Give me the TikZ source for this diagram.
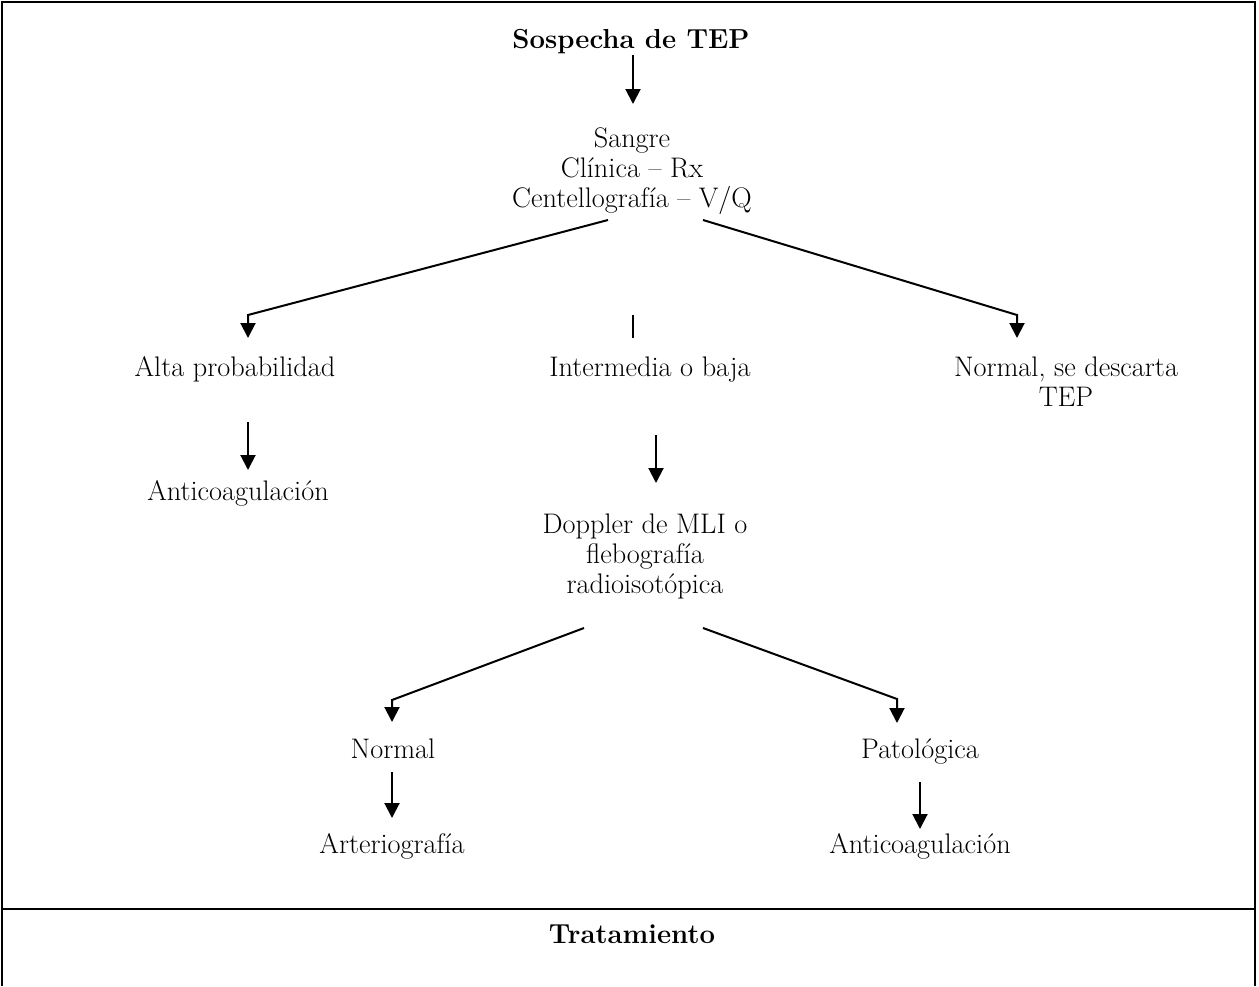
\documentclass[tikz,border=0pt]{standalone}
\usepackage{fontspec}
\usetikzlibrary{arrows.meta}
\begin{document}
\begin{tikzpicture}[x=1pt,y=-1pt,
  txt/.style={inner sep=0pt, font=\fontsize{28.3pt}{30pt}\selectfont, align=center},
  hd/.style={inner sep=0pt, font=\fontsize{27.5pt}{32pt}\selectfont\bfseries},
  ln/.style={line width=2pt},
  arr/.style={line width=2pt, -{Triangle[width=15pt,length=15pt]}},
  frm/.style={line width=2.5pt}]
\useasboundingbox (0,0) rectangle (1259,986);
% frame
\draw[frm] (2,986) -- (2,2) -- (1255,2) -- (1255,986);
\draw[frm] (2,909) -- (1255,909);
% nodes (base = baseline of last line)
\node[hd, anchor=base] (sosp) at (631,48) {Sospecha de TEP};
\node[txt, anchor=base] (sangre) at (632,207) {Sangre\\Clínica – Rx\\Centellografía – V/Q};
\node[txt, anchor=base] (alta) at (235,376) {Alta probabilidad};
\node[txt, anchor=base] (inter) at (650,376) {Intermedia o baja};
\node[txt, anchor=base] (normtep) at (1066,406) {Normal, se descarta\\TEP};
\node[txt, anchor=base] (anti1) at (238,500) {Anticoagulación};
\node[txt, anchor=base] (doppler) at (645,593) {Doppler de MLI o\\flebografía\\radioisotópica};
\node[txt, anchor=base] (normal) at (393,758) {Normal};
\node[txt, anchor=base] (pato) at (920,758) {Patológica};
\node[txt, anchor=base] (arterio) at (392,853) {Arteriografía};
\node[txt, anchor=base] (anti2) at (920,853) {Anticoagulación};
\node[hd, anchor=base] (trat) at (632,943) {Tratamiento};
% connector points
\coordinate (a1s) at (633,55);  \coordinate (a1e) at (633,104);
\coordinate (bl0) at (608,220); \coordinate (bl1) at (248,315); \coordinate (bl2) at (248,338);
\coordinate (bm1) at (633,315); \coordinate (bm2) at (633,338);
\coordinate (br0) at (703,220); \coordinate (br1) at (1017,315); \coordinate (br2) at (1017,338);
\coordinate (a2s) at (248,422); \coordinate (a2e) at (248,470);
\coordinate (a3s) at (656,435); \coordinate (a3e) at (656,483);
\coordinate (cl0) at (584,628); \coordinate (cl1) at (392,700); \coordinate (cl2) at (392,722);
\coordinate (cr0) at (703,628); \coordinate (cr1) at (897,699); \coordinate (cr2) at (897,723);
\coordinate (a4s) at (392,772); \coordinate (a4e) at (392,818);
\coordinate (a5s) at (920,782); \coordinate (a5e) at (920,829);
% connectors
\draw[arr] (a1s) -- (a1e);
\draw[arr] (bl0) -- (bl1) -- (bl2);
\draw[ln] (bm1) -- (bm2);
\draw[arr] (br0) -- (br1) -- (br2);
\draw[arr] (a2s) -- (a2e);
\draw[arr] (a3s) -- (a3e);
\draw[arr] (cl0) -- (cl1) -- (cl2);
\draw[arr] (cr0) -- (cr1) -- (cr2);
\draw[arr] (a4s) -- (a4e);
\draw[arr] (a5s) -- (a5e);
\end{tikzpicture}
\end{document}
